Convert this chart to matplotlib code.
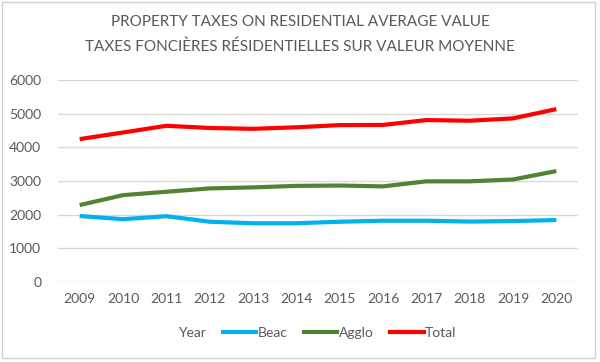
import matplotlib
matplotlib.use("Agg")
import matplotlib.pyplot as plt
from matplotlib.lines import Line2D
from matplotlib.patches import Rectangle

years = [2009, 2010, 2011, 2012, 2013, 2014, 2015, 2016, 2017, 2018, 2019, 2020]
beac = [1960, 1865, 1955, 1790, 1745, 1745, 1790, 1820, 1820, 1795, 1810, 1840]
agglo = [2285, 2580, 2680, 2780, 2810, 2855, 2865, 2840, 2990, 2990, 3045, 3295]
total = [4245, 4440, 4640, 4575, 4550, 4595, 4660, 4665, 4810, 4790, 4860, 5135]
series_names = ["Beac", "Agglo", "Total"]
colors = ["#00B0F0", "#548235", "#FF0000"]
title_lines = ["PROPERTY TAXES ON RESIDENTIAL AVERAGE VALUE",
               "TAXES FONCIÈRES RÉSIDENTIELLES SUR VALEUR MOYENNE"]

plt.rcParams['font.family'] = ['Lato', 'DejaVu Sans']
text_col = "#595959"

fig = plt.figure(figsize=(6.0, 3.62), dpi=100)
fig.patches.append(Rectangle((0.004, 0.012), 0.988, 0.983, transform=fig.transFigure,
                             fill=False, edgecolor="#D0D0D0", linewidth=1.0))
ax = fig.add_axes([58/600, 1-282/362, 520/600, 202/362])

for vals, name, c in zip([beac, agglo, total], series_names, colors):
    ax.plot(years, vals, color=c, linewidth=3.0, solid_capstyle='butt', label=name)

ax.set_xlim(2008.5, 2020.5)
ax.set_ylim(0, 6000)
ax.set_yticks(range(0, 6001, 1000))
ax.set_xticks(years)
ax.grid(axis='y', color="#D9D9D9", linewidth=1.0)
ax.set_axisbelow(True)
for s in ax.spines.values():
    s.set_visible(False)
ax.tick_params(length=0, labelsize=10, colors=text_col, pad=8)
ax.tick_params(axis='y', pad=12)

fig.text(0.5, 1-22/362, title_lines[0], ha='center', va='center', fontsize=11, color=text_col)
fig.text(0.5, 1-47/362, title_lines[1], ha='center', va='center', fontsize=11, color=text_col)

handles = [Line2D([], [], color='none')] + [Line2D([], [], color=c, linewidth=3) for c in colors]
labels = ["Year"] + series_names
fig.legend(handles, labels, loc='center', bbox_to_anchor=(0.5, 1-333/362), ncol=4,
           frameon=False, fontsize=10, labelcolor=text_col, handlelength=2.4,
           handletextpad=0.1, columnspacing=1.2)

fig.savefig("out.png", dpi=100)
